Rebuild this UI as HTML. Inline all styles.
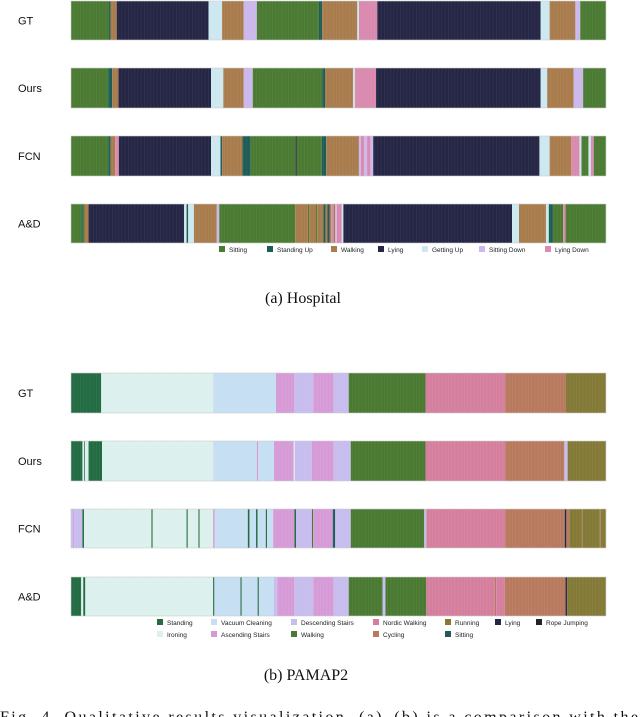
<!DOCTYPE html>
<html><head><meta charset="utf-8"><style>
body{margin:0;background:#fff;width:640px;height:717px;overflow:hidden;}
svg{display:block}
</style></head><body>
<svg id="fig" width="640" height="717"></svg>
<script>
// timeline domain 0..1310 units
const hospClasses=["Sitting","Standing Up","Walking","Lying","Getting Up","Sitting Down","Lying Down"];
const hospColors=["#4b7b33","#1d5d55","#a97c4d","#252645","#cde8f0","#cbb8ec","#d98aae"];
const hospGT=[[0,0],[93,1],[97,2],[112,3],[337,4],[370,2],[423,5],[455,0],[607,1],[615,2],[701,4],[705,6],[750,3],[1150,4],[1172,2],[1235,5],[1247,0]];
const hospOurs=[[0,0],[91,1],[101,2],[116,3],[343,4],[373,2],[423,5],[445,0],[615,1],[622,2],[691,4],[695,6],[747,3],[1150,4],[1166,2],[1231,5],[1254,0]];
const hospFCN=[[0,0],[91,1],[97,2],[108,6],[117,3],[343,4],[366,1],[370,2],[420,1],[440,0],[550,3],[553,0],[614,1],[625,2],[705,5],[710,6],[718,5],[725,6],[733,5],[740,3],[1147,4],[1172,2],[1225,6],[1245,4],[1250,0],[1267,4],[1273,6],[1280,0]];
const hospAD=[[0,0],[25,1],[28,0],[33,2],[43,3],[277,4],[283,1],[287,4],[301,2],[357,5],[363,0],[549,2],[580,0],[583,2],[600,0],[603,2],[618,1],[623,2],[628,1],[633,2],[637,6],[643,2],[647,5],[651,6],[663,4],[667,3],[1080,4],[1097,2],[1163,4],[1170,1],[1180,0],[1205,6],[1211,0]];
const pamClasses=["Standing","Ironing","Vacuum Cleaning","Ascending Stairs","Descending Stairs","Walking","Nordic Walking","Cycling","Running","Sitting","Lying","Rope Jumping"];
const pamColors=["#236b42","#dcf1ed","#c6dff2","#d69bd7","#c7bdee","#4a7a32","#d47f9e","#b87a5f","#847a37","#1d5d55","#252645","#222222"];
const pamGT=[[0,0],[74,1],[348,2],[502,3],[547,4],[593,3],[643,4],[680,5],[868,6],[1063,7],[1212,8]];
const pamOurs=[[0,0],[28,1],[32,0],[34,1],[43,0],[76,1],[348,2],[455,3],[458,2],[497,3],[545,1],[548,4],[590,3],[595,3],[643,4],[685,5],[868,6],[1063,7],[1208,4],[1216,8]];
const pamFCN=[[0,4],[5,3],[8,4],[28,0],[32,1],[197,0],[200,1],[283,0],[286,1],[312,0],[315,1],[348,3],[352,2],[433,0],[437,2],[453,0],[457,2],[477,0],[480,2],[495,3],[547,0],[551,4],[590,5],[593,3],[641,9],[647,4],[685,5],[865,4],[870,6],[1063,7],[1209,10],[1213,7],[1220,8],[1250,7],[1252,8],[1295,7],[1297,8]];
const pamAD=[[0,0],[25,1],[30,0],[35,1],[348,0],[351,2],[415,0],[418,2],[457,0],[460,2],[497,4],[505,3],[547,4],[593,3],[643,4],[680,5],[763,4],[770,5],[870,6],[1038,7],[1041,6],[1062,7],[1211,10],[1215,8]];
const ns="http://www.w3.org/2000/svg";
const svg=document.getElementById("fig");
const X0=71,X1=606,DMAX=1310;
function xs(v){return X0+v/DMAX*(X1-X0);}
function mk(t,a){const e=document.createElementNS(ns,t);for(const k in a)e.setAttribute(k,a[k]);svg.appendChild(e);return e;}
function row(label,segs,colors,y,h,nm){
  const t=mk("text",{x:18,y:y+h/2+4,"font-family":"Liberation Sans, sans-serif","font-size":"11",fill:"#111"});
  t.textContent=label;
  
  
  for(let i=0;i<segs.length;i++){
    const s=segs[i][0],e=i+1<segs.length?segs[i+1][0]:DMAX;
    const r=mk("rect",{x:xs(s),y:y,width:Math.max(0.5,xs(e)-xs(s)),height:h,fill:colors[segs[i][1]]});
    
    
  }
  for(let x=X0+3;x<X1;x+=3.2){mk("line",{x1:x,x2:x,y1:y,y2:y+h,stroke:"#ffffff","stroke-opacity":"0.08","stroke-width":"0.6"});}
  mk("rect",{x:X0,y:y,width:X1-X0,height:h,fill:"none",stroke:"#cccccc","stroke-width":"0.6"});
}
function legend(items,y){
  items.forEach(it=>{
    const r=mk("rect",{x:it[0],y:y-6,width:6,height:6,fill:it[2]});
    
    
    const t=mk("text",{x:it[0]+10,y:y,"font-family":"Liberation Sans, sans-serif","font-size":"6.5",fill:"#222"});
    t.textContent=it[1];
    
    
  });
}
function caption(txt,y,nm,x,anchor,len){
  const a={x:x,y:y,"font-family":"Liberation Serif, serif","font-size":"16","text-anchor":anchor,fill:"#111"};
  if(len){a.textLength=len;a.lengthAdjust="spacing";}
  const t=mk("text",a);
  t.textContent=txt;
  
  
}
row("GT",hospGT,hospColors,1,39,"hospital-gt");
row("Ours",hospOurs,hospColors,68,40,"hospital-ours");
row("FCN",hospFCN,hospColors,136,40,"hospital-fcn");
row("A&D",hospAD,hospColors,204,39,"hospital-ad");
const hx=[219,267,331,378,422,479,545];
legend(hospClasses.map((c,i)=>[hx[i],c,hospColors[i]]),252);
caption("(a)  Hospital",303,"caption-hospital",303,"middle");
row("GT",pamGT,pamColors,373,40,"pamap-gt");
row("Ours",pamOurs,pamColors,441,40,"pamap-ours");
row("FCN",pamFCN,pamColors,509,39,"pamap-fcn");
row("A&D",pamAD,pamColors,577,39,"pamap-ad");
const pl=[[157,"Standing",0],[211,"Vacuum Cleaning",2],[291,"Descending Stairs",4],[373,"Nordic Walking",6],[445,"Running",8],[495,"Lying",10],[536,"Rope Jumping",11]];
legend(pl.map(p=>[p[0],p[1],pamColors[p[2]]]),625);
const pl2=[[157,"Ironing",1],[211,"Ascending Stairs",3],[291,"Walking",5],[373,"Cycling",7],[445,"Sitting",9]];
legend(pl2.map(p=>[p[0],p[1],pamColors[p[2]]]),637);
caption("(b)  PAMAP2",680,"caption-pamap2",306,"middle");
caption("Fig. 4.    Qualitative results visualization. (a)–(b) is a comparison with the",722,"figure-caption",0,"start",638);
</script>
</body></html>
